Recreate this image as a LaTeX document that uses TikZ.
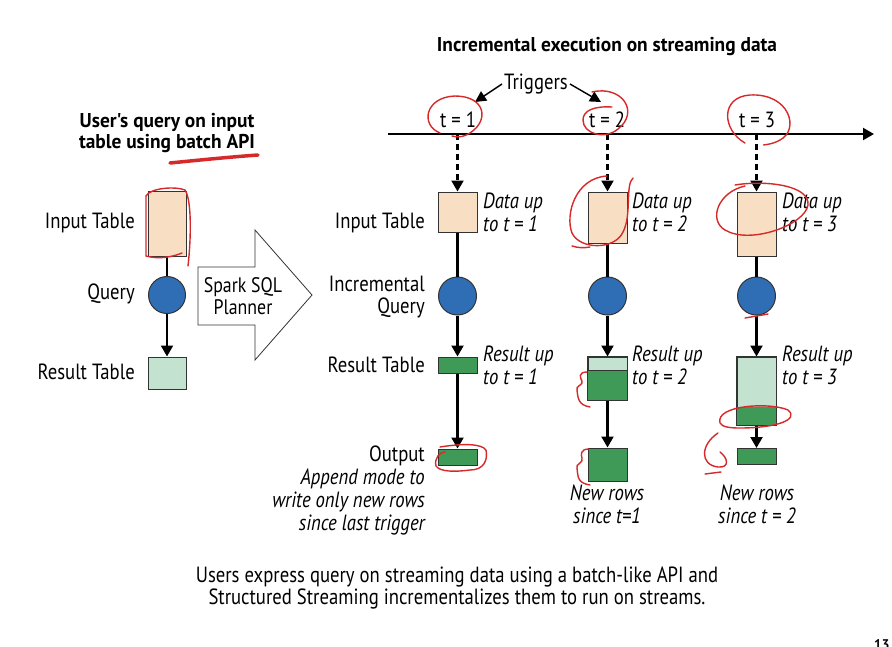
\documentclass[tikz,border=0pt]{standalone}
\usepackage{fontspec}
\setmainfont{PT Sans}[FakeStretch=0.85]
\newfontfamily\heavy{PT Sans}[FakeStretch=0.97]
\usetikzlibrary{arrows.meta,calc}
\definecolor{peach}{HTML}{F8DFC4}
\definecolor{qblue}{HTML}{2F6DB5}
\definecolor{ltgreen}{HTML}{C3E2CF}
\definecolor{dkgreen}{HTML}{3E9A56}
\definecolor{anno}{HTML}{D62A2A}
\definecolor{edge}{HTML}{333333}
\tikzset{
  box/.style={draw=edge, line width=1pt, inner sep=0pt, minimum width=39pt},
  inbox/.style={box, fill=peach},
  resbox/.style={box, fill=ltgreen},
  outbox/.style={box, fill=dkgreen},
  qnode/.style={circle, draw=edge, fill=qblue, minimum size=38pt, inner sep=0pt, line width=1pt},
  txt/.style={font=\fontsize{22}{23}\selectfont, inner sep=0pt},
  lbl/.style={txt, anchor=east, align=right},
  note/.style={font=\itshape\fontsize{22}{23}\selectfont, anchor=north west, align=left, inner sep=0pt},
  ttl/.style={font=\heavy\bfseries\fontsize{20}{21}\selectfont, align=center, inner sep=0pt},
  flow/.style={line width=2.2pt, -{Triangle[length=11pt,width=12pt]}},
  dflow/.style={flow, dash pattern=on 6pt off 4pt},
  link/.style={line width=2.2pt},
  anno/.style={draw=anno, line width=1.4pt, line cap=round, line join=round},
}
\begin{document}
\begin{tikzpicture}[x=1pt,y=-1pt]
\clip (0,0) rectangle (892,646);
\fill[white] (0,0) rectangle (892,646);

% ---------- left part ----------
\node[ttl] (ltitle) at (167,133) {User's query on input\\table using batch API};
\node[inbox, minimum width=38pt, minimum height=65pt] (inL) at (167,223.5) {};
\node[qnode, minimum size=37pt] (qL) at (167,295) {};
\node[resbox, minimum width=38pt, minimum height=32pt] (rL) at (167,373) {};
\node[lbl] (linL) at (135,223) {Input Table};
\node[lbl] (lqL) at (135,294) {Query};
\node[lbl] (lrL) at (135,372) {Result Table};
\draw[link] (inL) -- (qL);
\draw[flow] (qL) -- (rL);

% Spark SQL planner arrow
\draw[line width=0.8pt, draw=edge, fill=white] (198,267) -- (255,267) -- (255,230) -- (312,295) -- (255,360) -- (255,325) -- (198,325) -- cycle;
\node[txt, align=center, font=\fontsize{21}{22}\selectfont] (planner) at (243,296) {Spark SQL\\Planner};

% ---------- right part ----------
\node[ttl] (rtitle) at (607,47) {Incremental execution on streaming data};
\coordinate (tl0) at (388,134);
\coordinate (tl1) at (874,134);
\draw[flow] (tl0) -- (tl1);
\node[txt] (t1) at (458,120) {t = 1};
\node[txt] (t2) at (607,120) {t = 2};
\node[txt] (t3) at (757,120) {t = 3};
\node[txt] (trig) at (536,84) {Triggers};
\coordinate (tipA) at (475,102);
\coordinate (tipB) at (601,102);
\draw[line width=1.4pt, -{Triangle[length=11pt,width=11pt]}] ([xshift=-2pt]trig.west) -- (tipA);
\draw[line width=1.4pt, -{Triangle[length=11pt,width=11pt]}] ([xshift=2pt]trig.east) -- (tipB);
\coordinate (tk1) at (457.5,134);
\coordinate (tk2) at (607.5,134);
\coordinate (tk3) at (756.5,134);

% column 1
\node[inbox, minimum height=40pt] (in1) at (457.5,212) {};
\node[qnode] (q1) at (457.5,296) {};
\node[outbox, minimum height=16pt] (r1) at (457.5,365) {};
\node[outbox, minimum height=16pt] (o1) at (457.5,457) {};
% column 2
\node[inbox, minimum height=51pt] (in2) at (607.5,217.5) {};
\node[qnode] (q2) at (607.5,296) {};
\node[resbox, minimum height=43pt] (r2) at (607.5,378.5) {};
\node[outbox, minimum height=33pt] (o2) at (607.5,464.5) {};
% column 3
\node[inbox, minimum height=64pt] (in3) at (756.5,224) {};
\node[qnode] (q3) at (756.5,296) {};
\node[resbox, minimum height=68pt] (r3) at (756.5,391) {};
\node[outbox, minimum height=16pt] (o3) at (756.5,456.5) {};
% dark (new) parts of results
\path[fill=dkgreen] (r2.south west) rectangle ([yshift=30pt]r2.south east);
\draw[draw=edge, line width=1pt] (r2.north west) rectangle (r2.south east);
\draw[draw=edge, line width=0.6pt] ([yshift=30pt]r2.south west) -- ([yshift=30pt]r2.south east);
\path[fill=dkgreen] (r3.south west) rectangle ([yshift=19pt]r3.south east);
\draw[draw=edge, line width=1pt] (r3.north west) rectangle (r3.south east);

\foreach \i in {1,2,3}{
  \draw[dflow] (tk\i) -- (in\i);
  \draw[link] (in\i) -- (q\i);
  \draw[flow] (q\i) -- (r\i);
  \draw[flow] (r\i) -- (o\i);
}

% labels
\node[lbl] (lin) at (425,223) {Input Table};
\node[lbl, font=\fontsize{22}{22}\selectfont] (lq) at (425,297) {Incremental\\Query};
\node[lbl] (lr) at (425,365) {Result Table};
\node[lbl, anchor=north east] (lout) at (425,446) {Output\\\itshape Append mode to\\\itshape write only new rows\\\itshape since last trigger};
\node[note] (d1) at (483,193) {Data up\\to t = 1};
\node[note] (d2) at (632,193) {Data up\\to t = 2};
\node[note] (d3) at (782,193) {Data up\\to t = 3};
\node[note] (res1) at (483,346) {Result up\\to t = 1};
\node[note] (res2) at (632,346) {Result up\\to t = 2};
\node[note] (res3) at (782,346) {Result up\\to t = 3};
\node[note, anchor=north, align=center] (n2) at (607,485) {New rows\\since t=1};
\node[note, anchor=north, align=center] (n3) at (757,485) {New rows\\since t = 2};

% caption
\node[txt, align=center, font=\fontsize{22}{22}\selectfont] (cap) at (457,588) {Users express query on streaming data using a batch-like API and\\Structured Streaming incrementalizes them to run on streams.};
\node[font=\heavy\bfseries\fontsize{14}{16}\selectfont, anchor=west, inner sep=0pt] (pg) at (874,645) {13};

% ---------- red annotations ----------
\draw[anno, line width=3.5pt] (170,163) .. controls (200,160) and (230,157) .. (258,155);
\draw[anno] (146,196) .. controls (150,188) and (175,186) .. (185,190) .. controls (192,200) and (191,240) .. (188,266);
\draw[anno] (146,196) -- (146,256) .. controls (160,260) and (175,256) .. (182,253);
\draw[anno] (440,133) .. controls (420,125) and (425,97) .. (455,96) .. controls (485,96) and (490,120) .. (470,133) .. controls (462,138) and (456,137) .. (452,136);
\draw[anno] (592,92) .. controls (622,85) and (640,112) .. (618,129) .. controls (605,140) and (583,134) .. (583,120) .. controls (583,110) and (595,106) .. (612,107);
\draw[anno] (745,143) .. controls (722,130) and (720,97) .. (750,95) .. controls (790,93) and (800,130) .. (780,140) .. controls (772,145) and (760,145) .. (764,145);
\draw[anno] (607,176) .. controls (575,178) and (565,215) .. (572,233) .. controls (580,250) and (615,250) .. (623,232) .. controls (632,215) and (625,185) .. (633,178);
\draw[anno] (572,246) .. controls (578,248) and (584,248) .. (590,247);
\draw[anno] (735,185) .. controls (765,180) and (810,185) .. (808,205) .. controls (805,225) and (750,245) .. (725,230) .. controls (708,220) and (718,192) .. (745,186);
\draw[anno] (745,318) -- (768,314);
\draw[anno] (587,372) .. controls (578,372) and (580,378) .. (582,381) .. controls (584,385) and (575,386) .. (577,390) .. controls (578,398) and (578,405) .. (590,407);
\draw[anno] (589,449) .. controls (580,449) and (581,455) .. (582,458) .. controls (584,463) and (575,464) .. (577,468) .. controls (578,478) and (578,483) .. (590,485);
\draw[anno] (720,423) .. controls (715,405) and (770,402) .. (788,410) .. controls (800,420) and (775,428) .. (740,428) .. controls (730,428) and (722,427) .. (720,423);
\draw[anno] (718,433) .. controls (700,445) and (700,465) .. (718,467) .. controls (730,468) and (728,458) .. (720,452);
\draw[anno] (721,472) -- (705,474);
\draw[anno] (440,447) .. controls (465,443) and (482,444) .. (486,450) .. controls (488,460) and (484,470) .. (470,470) .. controls (455,472) and (440,472) .. (436,466) .. controls (434,458) and (440,452) .. (445,452);
\end{tikzpicture}
\end{document}
